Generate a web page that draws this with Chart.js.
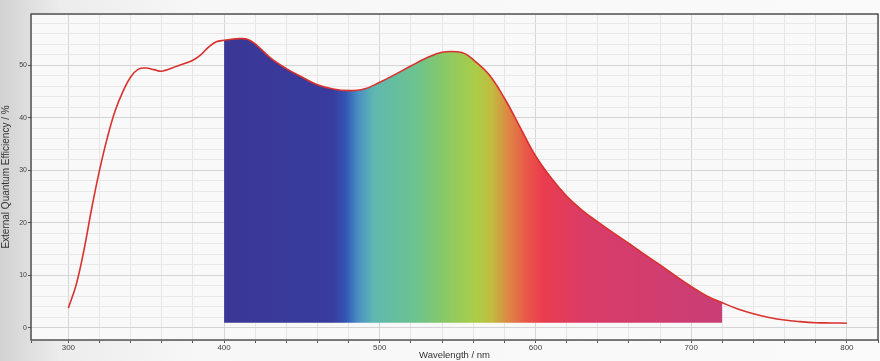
<!DOCTYPE html>
<html>
<head>
<meta charset="utf-8">
<script src="https://cdn.jsdelivr.net/npm/chart.js@4/dist/chart.umd.min.js"></script>
<style>
  body { margin: 0; background: linear-gradient(to right, #d2d2d2 0px, #ececec 60px, #f7f7f7 200px, #fafafa 880px); }
  #wrap { width: 880px; height: 361px; position: relative; }
</style>
</head>
<body>
<div id="wrap"><canvas id="eqeChart"></canvas></div>
<script>
// wavelength (nm) and EQE (%)
const wavelengths = [300, 305, 310, 315, 320, 325, 330, 335, 340, 345, 350, 355, 360, 370, 380, 385, 390, 395,
  400, 405, 410, 415, 420, 430, 440, 450, 460, 470, 480, 490, 500, 510, 520, 530, 540, 550, 555, 560, 570, 580,
  590, 600, 610, 620, 630, 640, 650, 660, 670, 680, 690, 700, 710, 720, 730, 740, 750, 760, 770, 780, 790, 800];
const eqe = [3.8, 8.2, 14.8, 22.8, 30.0, 36.2, 41.3, 45.0, 47.8, 49.3, 49.5, 49.2, 48.9, 49.9, 51.0, 52.0, 53.5, 54.5,
  54.8, 55.0, 55.1, 55.0, 54.1, 51.4, 49.4, 47.8, 46.3, 45.5, 45.2, 45.5, 46.8, 48.3, 49.9, 51.4, 52.5, 52.6, 52.2, 51.1, 48.3, 43.8,
  38.3, 32.8, 28.6, 25.1, 22.4, 20.2, 18.1, 16.1, 14.0, 12.0, 9.9, 7.9, 6.1, 4.8, 3.6, 2.7, 2.0, 1.5, 1.2, 1.0, 0.95, 0.9];

// shaded visible band
const bandStart = 400;
const bandEnd = 720;
const bandBase = 1;

// spectrum colour stops across the band
const spectrumNm = [400, 470, 478, 486, 496, 525, 540, 562, 572, 582, 594, 605, 632, 720];
const spectrumColors = ['#3b3796', '#383c9e', '#3255b4', '#4a8ec4', '#5fb8b0', '#6ec38c', '#86c868', '#abcd46',
  '#c2bb40', '#dc8a44', '#ea5848', '#ea3c4e', '#da3c68', '#c83e76'];

const xTickLabels = [300, 400, 500, 600, 700, 800];
const yTickLabels = [0, 10, 20, 30, 40, 50];

const linePoints = wavelengths.map((w, i) => ({ x: w, y: eqe[i] }));
const bandPoints = linePoints.filter(p => p.x >= bandStart && p.x <= bandEnd);

function spectrumFill(ctx) {
  const chart = ctx.chart;
  const area = chart.chartArea;
  if (!area) return '#3b3796';
  const xs = chart.scales.x;
  const x0 = xs.getPixelForValue(bandStart);
  const x1 = xs.getPixelForValue(bandEnd);
  const g = chart.ctx.createLinearGradient(x0, 0, x1, 0);
  spectrumNm.forEach((nm, i) => {
    g.addColorStop((nm - bandStart) / (bandEnd - bandStart), spectrumColors[i]);
  });
  return g;
}

const framePlugin = {
  id: 'frame',
  beforeDraw(chart) {
    const { ctx, chartArea: a } = chart;
    ctx.save();
    ctx.fillStyle = '#f9f9f9';
    ctx.fillRect(a.left, a.top, a.right - a.left, a.bottom - a.top);
    ctx.restore();
  },
  afterDraw(chart) {
    const { ctx, chartArea: a } = chart;
    ctx.save();
    ctx.strokeStyle = '#3a3a3a';
    ctx.lineWidth = 1.3;
    ctx.strokeRect(a.left, a.top, a.right - a.left, a.bottom - a.top);
    ctx.restore();
  }
};

const isMajorX = v => xTickLabels.includes(v);
const isMajorY = v => yTickLabels.includes(v);

new Chart(document.getElementById('eqeChart'), {
  type: 'line',
  data: {
    datasets: [
      {
        label: 'EQE',
        data: linePoints,
        borderColor: '#d8322e',
        borderWidth: 1.6,
        pointRadius: 0,
        tension: 0.4,
        fill: false
      },
      {
        label: 'band',
        data: bandPoints,
        borderWidth: 0,
        borderColor: 'rgba(0,0,0,0)',
        pointRadius: 0,
        tension: 0.4,
        backgroundColor: spectrumFill,
        fill: { value: bandBase }
      }
    ]
  },
  options: {
    responsive: true,
    maintainAspectRatio: false,
    animation: false,
    events: [],
    layout: { padding: { top: 14, right: 2, left: 0, bottom: 0 } },
    plugins: { legend: { display: false }, tooltip: { enabled: false } },
    scales: {
      x: {
        type: 'linear',
        min: 276,
        max: 820,
        afterFit(scale) { scale.height = 21; },
        ticks: {
          stepSize: 20,
          autoSkip: false,
          maxRotation: 0,
          padding: 0,
          color: '#444',
          font: { family: 'Liberation Sans', size: 8 },
          callback: v => (isMajorX(v) ? String(v) : '')
        },
        grid: {
          color: ctx => (ctx.tick && isMajorX(ctx.tick.value) ? '#d6d6d6' : '#e6e6e6'),
          tickLength: 3,
          tickColor: '#555'
        },
        border: { display: false },
        title: {
          display: true,
          text: 'Wavelength / nm',
          color: '#333',
          font: { family: 'Liberation Sans', size: 9.5 },
          padding: { top: 0, bottom: 0 }
        }
      },
      y: {
        min: -2.3,
        max: 59.8,
        afterFit(scale) { scale.width = 31; },
        ticks: {
          stepSize: 2,
          autoSkip: false,
          padding: 1,
          color: '#444',
          font: { family: 'Liberation Sans', size: 7 },
          callback: v => (isMajorY(v) ? String(v) : '')
        },
        grid: {
          color: ctx => (ctx.tick && isMajorY(ctx.tick.value) ? '#d4d4d4' : '#e8e8e8'),
          tickLength: 3,
          tickColor: ctx => (ctx.tick && isMajorY(ctx.tick.value) ? '#555' : 'rgba(0,0,0,0)')
        },
        border: { display: false },
        title: {
          display: true,
          text: 'External Quantum Efficiency / %',
          color: '#333',
          font: { family: 'Liberation Sans', size: 10 },
          padding: { top: 0, bottom: 1 }
        }
      }
    }
  },
  plugins: [framePlugin]
});
</script>
</body>
</html>
